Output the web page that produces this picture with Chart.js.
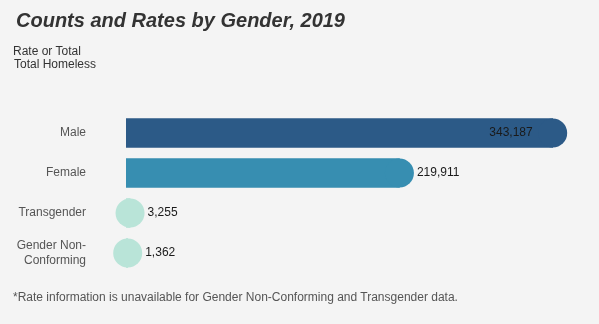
<!DOCTYPE html>
<html>
<head>
<meta charset="utf-8">
<script src="https://cdn.jsdelivr.net/npm/chart.js@4/dist/chart.umd.min.js"></script>
<style>
    html, body { margin: 0; padding: 0; background: #f4f4f4; }
    body { width: 599px; height: 324px; position: relative; overflow: hidden;
           font-family: "Liberation Sans", Arial, Helvetica, sans-serif; }
    #chartBox { position: absolute; left: 0; top: 0; width: 599px; height: 324px; }
    .title { position: absolute; left: 16px; top: 9px; font-size: 20px; font-weight: bold;
             font-style: italic; color: #333; white-space: nowrap; }
    .param { position: absolute; left: 13px; font-size: 12px; color: #333; white-space: nowrap; }
    .note { position: absolute; left: 13px; top: 290px; font-size: 12px; color: #555; white-space: nowrap; }
</style>
</head>
<body>
<div id="chartBox"><canvas id="genderChart"></canvas></div>
<div class="title">Counts and Rates by Gender, 2019</div>
<div class="param" style="top:44px">Rate or Total</div>
<div class="param" style="top:57px;left:14px">Total Homeless</div>
<div class="note">*Rate information is unavailable for Gender Non-Conforming and Transgender data.</div>

<script>
const genders = ['Male', 'Female', 'Transgender', ['Gender Non-', 'Conforming']];
const totals = [343187, 219911, 3255, 1362];
const barColours = ['#2c5a87', '#378eb1', '#b9e4d8', '#b9e4d8'];

const CAP = 14.5; // radius of the round end drawn on each bar

// writes the count next to (or inside) each bar's round end
const valueLabels = {
    id: 'valueLabels',
    afterDatasetsDraw(chart) {
        const ctx = chart.ctx;
        const xs = chart.scales.x;
        const ys = chart.scales.y;
        ctx.save();
        ctx.font = '12px "Liberation Sans", Arial, sans-serif';
        ctx.fillStyle = '#1a1a1a';
        ctx.textBaseline = 'middle';
        totals.forEach((v, i) => {
            const px = xs.getPixelForValue(v);
            const py = ys.getPixelForValue(i);
            const text = v.toLocaleString('en-US');
            const w = ctx.measureText(text).width;
            if (px + CAP + 3 + w > chart.width - 2) {
                ctx.textAlign = 'right';
                ctx.fillText(text, px - 20, py);
            } else {
                ctx.textAlign = 'left';
                ctx.fillText(text, px + CAP + 3, py);
            }
        });
        ctx.restore();
    }
};

const ctx = document.getElementById('genderChart').getContext('2d');
const genderChart = new Chart(ctx, {
    type: 'bar',
    data: {
        labels: genders,
        datasets: [{
            label: 'Total Homeless',
            data: totals,
            backgroundColor: barColours,
            barThickness: 29,
            order: 1
        }, {
            type: 'scatter',
            label: 'ends',
            data: totals.map((v, i) => ({ x: v, y: i })),
            backgroundColor: barColours,
            pointRadius: CAP,
            pointBorderWidth: 0,
            borderWidth: 0,
            clip: false,
            order: 0
        }]
    },
    options: {
        indexAxis: 'y',
        responsive: true,
        maintainAspectRatio: false,
        animation: false,
        events: [],
        layout: { autoPadding: false, padding: { top: 113, bottom: 51, left: 0, right: 9 } },
        plugins: {
            legend: { display: false },
            tooltip: { enabled: false }
        },
        scales: {
            x: {
                type: 'linear',
                display: false,
                min: 0,
                max: 373200
            },
            y: {
                type: 'category',
                grid: { display: false, drawTicks: false },
                border: { display: false },
                ticks: {
                    padding: 40,
                    color: '#555',
                    font: { family: '"Liberation Sans", Arial, sans-serif', size: 12, lineHeight: 1.2 }
                },
                afterFit: function (scale) {
                    scale.width = 126;
                }
            }
        }
    },
    plugins: [valueLabels]
});
</script>
</body>
</html>
